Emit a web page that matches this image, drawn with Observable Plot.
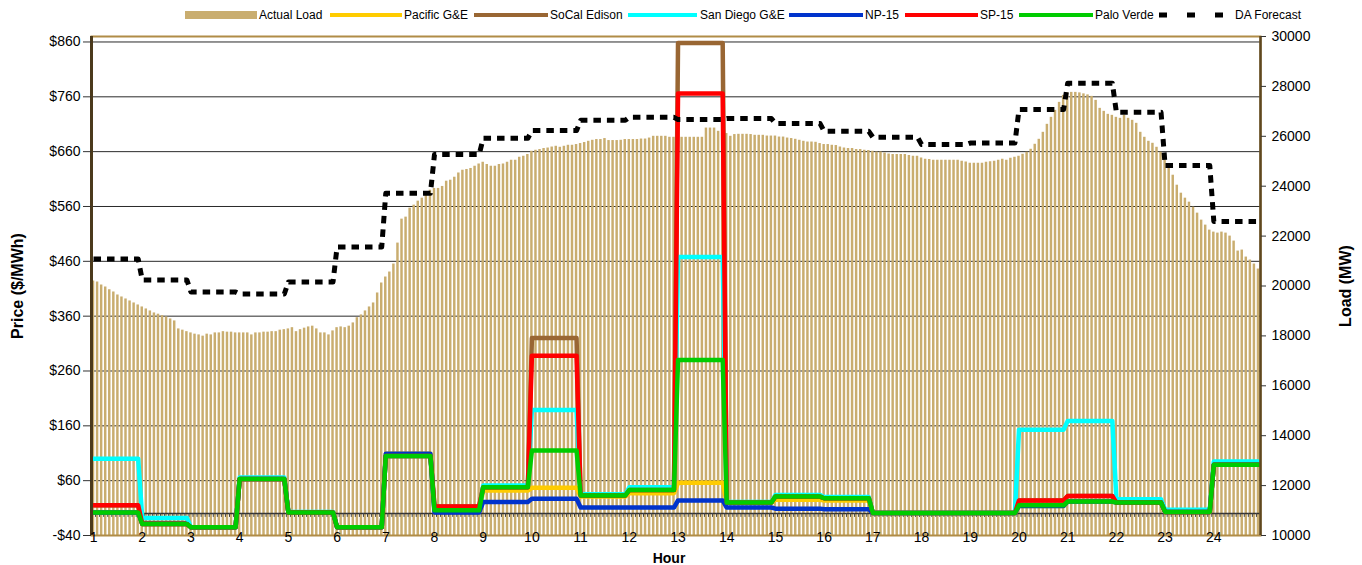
<!DOCTYPE html>
<html><head><meta charset="utf-8">
<script src="https://cdn.jsdelivr.net/npm/d3@7"></script>
<script src="https://cdn.jsdelivr.net/npm/@observablehq/plot@0.6"></script>
<style>
body{margin:0;background:#fff;font-family:"Liberation Sans",Arial,sans-serif;}
#legend{position:relative;height:28px;width:1362px;font-size:12px;color:#000;}
#legend .sw{position:absolute;top:0;}
#legend .tx{position:absolute;top:0;line-height:28px;white-space:nowrap;}
#chart{width:1362px;height:537px;}
</style></head><body>
<div id="legend"></div>
<div id="chart"></div>
<script>
// ---------------- data ----------------
const hours = [1,2,3,4,5,6,7,8,9,10,11,12,13,14,15,16,17,18,19,20,21,22,23,24];
const hourLabels = ["1","2","3","4","5","6","7","8","9","10","11","12","13","14","15","16","17","18","19","20","21","22","23","24"];

const seriesNames = ["Pacific G&E","SoCal Edison","San Diego G&E","NP-15","SP-15","Palo Verde"];
const seriesColors = ["#ffcc00","#996633","#00ffff","#0033cc","#ff0000","#00cc00"];

// hourly prices ($/MWh)
const pacificGE   = [  2,-19,-25,63,2,-25,109, 4,42, 47,31,37, 56,20,25,24,1,1,1, 14, 22,20,3,89];
const socalEdison = [ 15,-17,-25,63,2,-25,105,13,48,320,33,43,858,20,31,28,1,1,1, 24, 32,20,3,89];
const sanDiegoGE  = [100, -8,-25,66,3,-25,105, 6,51,189,35,48,468,21,34,30,1,1,1,153,169,26,7,95];
const np15        = [  2,-19,-25,63,2,-25,109, 2,21, 27,11,11, 24,11, 9, 8,1,1,1, 14, 22,20,3,89];
const sp15        = [ 15,-19,-25,63,2,-25,105,13,48,288,33,43,766,20,31,28,1,1,1, 24, 32,20,3,89];
const paloVerde   = [  2,-19,-25,63,2,-25,105, 6,48,115,33,43,280,20,31,28,1,1,1, 15, 22,20,3,89];

// day-ahead load forecast (MW), hourly
const daForecast = [21080,20240,19760,19680,20160,21560,23720,25270,25920,26230,26640,26760,
                    26670,26710,26510,26200,25960,25670,25730,27070,28130,26960,24830,22590];

// actual load (MW), 5-minute intervals, 12 per hour
const actualLoad = [
20200,20160,20040,19960,19850,19760,19640,19560,19480,19400,19320,19240,
19160,19080,19000,18920,18870,18810,18760,18680,18600,18280,18230,18170,
18120,18070,18040,17990,18070,18040,18120,18120,18170,18150,18150,18120,
18120,18120,18120,18040,18120,18120,18150,18150,18170,18170,18230,18250,
18280,18330,18170,18250,18310,18360,18390,18280,18120,18120,18040,18200,
18330,18360,18330,18390,18520,18730,18840,19000,19160,19320,19720,20120,
20360,20560,20880,21720,22680,22760,23120,23240,23400,23520,23640,23840,
23910,23910,23990,24200,24240,24360,24530,24640,24670,24710,24800,24890,
24960,24870,24800,24800,24870,24890,24960,25040,25040,25160,25200,25270,
25400,25440,25470,25510,25530,25570,25600,25560,25600,25640,25640,25670,
25710,25750,25800,25840,25870,25870,25910,25830,25830,25830,25840,25870,
25870,25870,25870,25890,25890,25930,26000,26000,26000,26000,25960,25960,
25960,25960,25960,25960,25960,25960,25960,26330,26330,26330,26200,26110,
26110,26000,26070,26080,26080,26080,26070,26040,26040,26040,26010,26010,
26010,25970,25970,25930,25910,25880,25840,25800,25770,25770,25760,25710,
25670,25670,25640,25630,25570,25530,25510,25510,25470,25470,25440,25430,
25400,25370,25370,25330,25290,25270,25270,25270,25270,25230,25200,25200,
25130,25080,25070,25040,25040,25040,25040,25040,25040,25040,25000,24970,
24920,24920,24920,24920,24960,24980,25000,25040,25080,25040,25120,25160,
25200,25280,25360,25480,25680,25880,26160,26480,26760,27040,27360,27640,
27740,27760,27760,27740,27700,27660,27600,27440,27120,27000,26880,26840,
26760,26720,26840,26720,26640,26520,26160,25960,25800,25720,25560,25360,
25040,24760,24440,24040,23720,23520,23360,23160,22920,22640,22440,22240,
22160,22120,22160,22120,22000,21800,21400,21440,21160,21040,20880,20680];

const priceTicks = [-40,60,160,260,360,460,560,660,760,860];
const loadTicks = [10000,12000,14000,16000,18000,20000,22000,24000,26000,28000,30000];

// ---------------- scales / helpers ----------------
const PRICE_MIN = -40, PRICE_MAX = 870, LOAD_MIN = 10000, LOAD_MAX = 30000;
const loadToPrice = v => PRICE_MIN + (v - LOAD_MIN) * (PRICE_MAX - PRICE_MIN) / (LOAD_MAX - LOAD_MIN);
const priceToLoad = p => LOAD_MIN + (p - PRICE_MIN) * (LOAD_MAX - LOAD_MIN) / (PRICE_MAX - PRICE_MIN);
const STEP = 1 / 12;            // 5-minute interval in hours
const X_MIN = 1 - STEP / 2, X_MAX = 25 - STEP / 2;
const LOAD_COLOR = "#c9ad6f";

const seriesValues = [pacificGE, socalEdison, sanDiegoGE, np15, sp15, paloVerde];

// hourly values held constant over the 12 intervals of each hour
const stepPoints = (vals) => hours.flatMap((h, i) => [{t: h, v: vals[i]}, {t: h + 11 * STEP, v: vals[i]}]);

const loadBars = actualLoad.map((v, i) => ({t: 1 + i * STEP, load: v}));

const marks = [
  Plot.ruleY(priceTicks.filter(p => p > PRICE_MIN), {stroke: "#2a2a2a", strokeWidth: 1}),
  Plot.rectY(loadBars, {
    x1: d => d.t - STEP / 2, x2: d => d.t + STEP / 2,
    y1: PRICE_MIN, y2: d => loadToPrice(d.load),
    fill: LOAD_COLOR, insetLeft: 0.8, insetRight: 0.8
  }),
  Plot.ruleY([0], {stroke: "#333", strokeWidth: 1.5}),
  Plot.ruleX(loadBars, {x: d => d.t - STEP / 2, y1: 0, y2: -7, stroke: "#444", strokeWidth: 1}),
  ...seriesValues.map((vals, k) => Plot.line(stepPoints(vals), {
    x: "t", y: "v", stroke: seriesColors[k], strokeWidth: 4.5,
    strokeLinejoin: "round", strokeLinecap: "round"
  })),
  Plot.line(stepPoints(daForecast), {
    x: "t", y: d => loadToPrice(d.v), stroke: "#000", strokeWidth: 5,
    strokeDasharray: "7.5,6", strokeLinecap: "butt"
  }),
  Plot.frame({stroke: "#b08c47", strokeWidth: 2}),
  Plot.ruleX([X_MIN], {stroke: "#4b3a1c", strokeWidth: 3}),
  Plot.ruleX([X_MAX], {stroke: "#5e4720", strokeWidth: 2.5}),
  Plot.axisY(priceTicks, {
    anchor: "left", tickSize: 8, tickPadding: 3, fontSize: 14, stroke: "#333",
    tickFormat: p => (p < 0 ? "-$" + (-p) : "$" + p), label: null
  }),
  Plot.axisY(loadTicks.map(loadToPrice), {
    anchor: "right", tickSize: 5, tickPadding: 6, fontSize: 14, stroke: "#333",
    tickFormat: p => String(Math.round(priceToLoad(p) / 10) * 10), label: null
  }),
  Plot.text(hours, {x: d => d, y: PRICE_MIN, text: (d, i) => hourLabels[i], lineAnchor: "middle", dy: 2, fontSize: 14}),
  Plot.text(["Price ($/MWh)"], {frameAnchor: "left", dx: -74, rotate: -90, textAnchor: "middle", fontWeight: "bold", fontSize: 16}),
  Plot.text(["Load (MW)"], {frameAnchor: "right", dx: 85, rotate: -90, textAnchor: "middle", fontWeight: "bold", fontSize: 16}),
  Plot.text(["Hour"], {frameAnchor: "bottom", dy: 27, dx: -7, textAnchor: "middle", fontWeight: "bold", fontSize: 14})
];

const chart = Plot.plot({
  width: 1362, height: 537,
  marginLeft: 91, marginRight: 102, marginTop: 8, marginBottom: 30,
  x: {domain: [X_MIN, X_MAX], axis: null},
  y: {domain: [PRICE_MIN, PRICE_MAX], axis: null},
  style: {fontFamily: "'Liberation Sans', Arial, sans-serif", background: "#fff", color: "#000", overflow: "visible"},
  marks
});
document.getElementById("chart").appendChild(chart);

// ---------------- legend ----------------
const legendItems = [
  {label: "Actual Load", kind: "bar", color: LOAD_COLOR},
  ...seriesNames.map((n, i) => ({label: n, kind: "line", color: seriesColors[i]})),
  {label: "DA Forecast", kind: "dash", color: "#000"}
];
const legendLayout = [[185,72,2],[330,72,2],[474,74,2],[628,69,3],[789,74,2],[905,73,2],[1019,74,2],[1159,66,10]];
const legend = document.getElementById("legend");
legendItems.forEach((it, i) => {
  const [x, w, gap] = legendLayout[i];
  const ns = "http://www.w3.org/2000/svg";
  const svg = document.createElementNS(ns, "svg");
  svg.setAttribute("class", "sw");
  svg.setAttribute("width", w); svg.setAttribute("height", 28);
  svg.style.left = x + "px";
  let el;
  if (it.kind === "bar") {
    el = document.createElementNS(ns, "rect");
    el.setAttribute("x", 0); el.setAttribute("y", 11); el.setAttribute("width", w); el.setAttribute("height", 8);
    el.setAttribute("fill", it.color);
  } else {
    el = document.createElementNS(ns, "line");
    el.setAttribute("x1", 0); el.setAttribute("x2", w); el.setAttribute("y1", 15); el.setAttribute("y2", 15);
    el.setAttribute("stroke", it.color);
    if (it.kind === "dash") { el.setAttribute("stroke-width", 5); el.setAttribute("stroke-dasharray", "8,20"); }
    else { el.setAttribute("stroke-width", 4); el.setAttribute("stroke-linecap", "round"); }
  }
  svg.appendChild(el);
  legend.appendChild(svg);
  const t = document.createElement("span");
  t.className = "tx";
  t.style.left = (x + w + gap) + "px";
  t.style.top = "1px";
  t.textContent = it.label;
  legend.appendChild(t);
});
</script>
</body></html>
